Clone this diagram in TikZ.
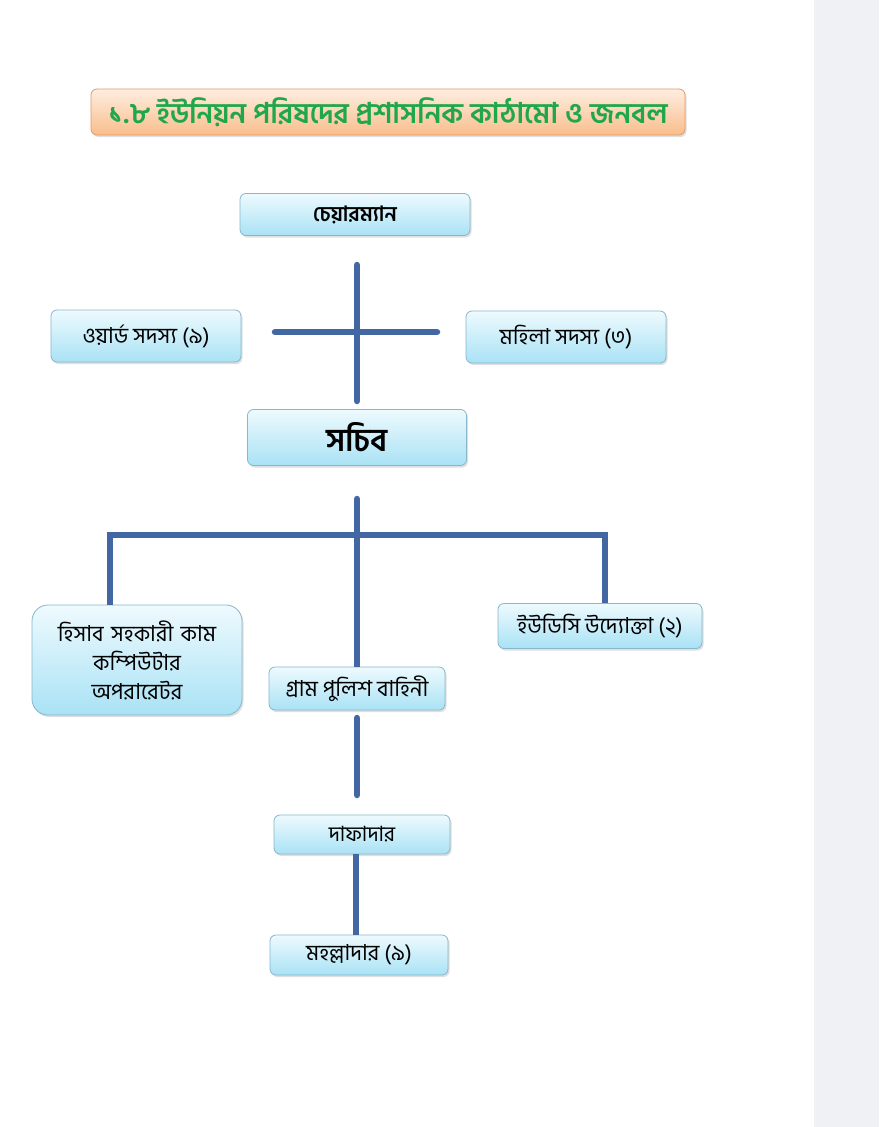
\documentclass[tikz,border=0pt]{standalone}
\usepackage{fontspec}
\newfontfamily\bn[Script=Bengali]{Hind Siliguri}
\usetikzlibrary{shadows}
\definecolor{linec}{HTML}{4267A2}
\definecolor{boxtop}{HTML}{EEFAFE}
\definecolor{boxbot}{HTML}{A9E2F5}
\definecolor{boxedge}{HTML}{86B7CC}
\definecolor{titletop}{HTML}{FEEDE0}
\definecolor{titlebot}{HTML}{F9BE8C}
\definecolor{titleedge}{HTML}{E29A66}
\definecolor{titletext}{HTML}{1FA74A}
\definecolor{panel}{HTML}{F0F1F4}
\tikzset{
  orgbox/.style={draw=boxedge, line width=0.8pt, rounded corners=6pt,
    top color=boxtop, bottom color=boxbot, inner sep=2pt,
    font=\bn\fontsize{22}{26}\selectfont, text=black, align=center,
    drop shadow={opacity=0.25, shadow xshift=1.5pt, shadow yshift=-2pt}},
  conn/.style={draw=linec, line width=6.5pt, line cap=round},
}
\begin{document}
\begin{tikzpicture}[x=1pt,y=-1pt]
\useasboundingbox (0,0) rectangle (879,1127);
\fill[white] (0,0) rectangle (879,1127);
\fill[panel] (814,0) rectangle (879,1127);

% title
\node[draw=titleedge, line width=0.8pt, rounded corners=6pt, top color=titletop, bottom color=titlebot,
  minimum width=594pt, minimum height=46pt, inner sep=0pt, text=titletext,
  font=\bn\bfseries\fontsize{28.5}{32}\selectfont,
  drop shadow={opacity=0.25, shadow xshift=1.5pt, shadow yshift=-2pt}]
  (title) at (388,112) {১.৮ ইউনিয়ন পরিষদের প্রশাসনিক কাঠামো ও জনবল};

% boxes
\node[orgbox, minimum width=230pt, minimum height=42pt, font=\bn\bfseries\fontsize{21}{25}\selectfont] (chair) at (355,214.5) {চেয়ারম্যান};
\node[orgbox, minimum width=190pt, minimum height=52pt] (ward) at (146,336) {ওয়ার্ড সদস্য (৯)};
\node[orgbox, minimum width=200pt, minimum height=52pt] (mahila) at (566,337) {মহিলা সদস্য (৩)};
\node[orgbox, minimum width=219pt, minimum height=56pt, font=\bn\bfseries\fontsize{32}{36}\selectfont] (sachib) at (357,437.5) {সচিব};
\node[orgbox, minimum width=210pt, minimum height=110pt, rounded corners=16pt, text width=200pt,
  font=\bn\fontsize{22}{29}\selectfont] (acct) at (137,660) {হিসাব সহকারী কাম\\কম্পিউটার\\অপরারেটর};
\node[orgbox, minimum width=176pt, minimum height=43pt] (gram) at (357,688.5) {গ্রাম পুলিশ বাহিনী};
\node[orgbox, minimum width=204pt, minimum height=45pt] (udc) at (600,626) {ইউডিসি উদ্যোক্তা (২)};
\node[orgbox, minimum width=176pt, minimum height=39pt, font=\bn\fontsize{21}{25}\selectfont] (dafa) at (362,834.5) {দাফাদার};
\node[orgbox, minimum width=178pt, minimum height=40pt] (moha) at (359,955) {মহল্লাদার (৯)};

% cross below chairman
\coordinate (crossT) at (357,265);
\coordinate (crossB) at (357,401);
\coordinate (crossL) at (275,332);
\coordinate (crossR) at (437,332);
\draw[conn] (crossT) -- (crossB);
\draw[conn] (crossL) -- (crossR);

% secretary tree
\coordinate (stemT) at (357,499);
\coordinate (bus) at (357,535);
\coordinate (busL) at (110,535);
\coordinate (busR) at (605,535);
\draw[conn] (stemT) -- (bus);
\draw[conn, line cap=butt] ([xshift=-3pt]busL) -- ([xshift=3pt]busR);
\draw[conn, line cap=butt] ([yshift=-3pt]busL) -- (busL |- acct.north);
\draw[conn, line cap=butt] ([yshift=-3pt]busR) -- (busR |- udc.north);
\draw[conn, line cap=butt] (bus) -- (bus |- gram.north);

% police chain
\coordinate (pT) at (357,718);
\coordinate (pB) at (357,795);
\draw[conn] (pT) -- (pB);
\draw[conn, line cap=butt] (356,0 |- dafa.south) -- (356,0 |- moha.north);
\end{tikzpicture}
\end{document}
